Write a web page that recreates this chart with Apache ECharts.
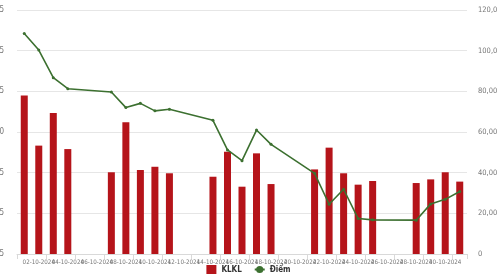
<!DOCTYPE html>
<html>
<head>
<meta charset="utf-8">
<script src="https://cdn.jsdelivr.net/npm/echarts@6/dist/echarts.min.js"></script>
<style>
html,body{margin:0;padding:0;background:#fff;}
#c{width:497px;height:280px;}
</style>
</head>
<body>
<div id="c"></div>
<script>
var categories = ['01-10-2024','02-10-2024','03-10-2024','04-10-2024','05-10-2024','06-10-2024','07-10-2024','08-10-2024','09-10-2024','10-10-2024','11-10-2024','12-10-2024','13-10-2024','14-10-2024','15-10-2024','16-10-2024','17-10-2024','18-10-2024','19-10-2024','20-10-2024','21-10-2024','22-10-2024','23-10-2024','24-10-2024','25-10-2024','26-10-2024','27-10-2024','28-10-2024','29-10-2024','30-10-2024','31-10-2024'];
var klkl = [77900,53300,69300,51600,null,null,40200,64800,41300,42900,39700,null,null,38000,50300,33100,49500,34400,null,null,41600,52300,39700,34100,35900,null,null,34900,36700,40200,35600];
var diem = [1280.3,1275.2,1266.7,1263.3,null,null,1262.3,1257.5,1258.8,1256.5,1257.0,null,null,1253.6,1244.5,1241.2,1250.6,1246.2,null,null,1237.3,1227.8,1232.4,1223.4,1223.0,null,null,1222.9,1227.9,1229.3,1231.7];
var seriesNames = ['KLKL','Điểm'];

var font = "'DejaVu Sans Condensed','Liberation Sans Narrow',sans-serif";
var chart = echarts.init(document.getElementById('c'), null, {renderer:'canvas'});
chart.setOption({
  animation:false,
  backgroundColor:'#fff',
  grid:{left:17, right:30, top:10, bottom:26, containLabel:false, outerBoundsMode:'none'},
  legend:{
    data:[{name:seriesNames[0], icon:'rect'},{name:seriesNames[1]}],
    bottom:1, left:'center', itemWidth:10, itemHeight:9, itemGap:12,
    textStyle:{fontSize:8, color:'#333', fontWeight:'bold', fontFamily:font}
  },
  xAxis:{
    type:'category', data:categories, boundaryGap:true,
    axisLine:{lineStyle:{color:'#d9d9d9'}},
    axisTick:{show:true, interval:1, lineStyle:{color:'#d9d9d9'}},
    axisLabel:{interval:0, fontSize:6.2, color:'#777', margin:5, fontFamily:font, hideOverlap:false,
      formatter:function(v, i){ return i % 2 === 1 ? v : ''; }}
  },
  yAxis:[{
    type:'value', min:1212.5, max:1287.5, interval:12.5, position:'left',
    axisLine:{show:false}, axisTick:{show:false},
    splitLine:{lineStyle:{color:'#e6e6e6'}},
    axisLabel:{fontSize:8, color:'#777', margin:13, fontFamily:font}
  },{
    type:'value', min:0, max:120000, interval:20000, position:'right',
    axisLine:{show:false}, axisTick:{show:false}, splitLine:{show:false},
    axisLabel:{fontSize:7.5, color:'#777', margin:11, fontFamily:font}
  }],
  series:[{
    name:seriesNames[0], type:'bar', yAxisIndex:1, data:klkl, barWidth:7,
    itemStyle:{color:'#b5141a'}
  },{
    name:seriesNames[1], type:'line', yAxisIndex:0, data:diem, connectNulls:true,
    symbol:'circle', symbolSize:3, showSymbol:true,
    lineStyle:{color:'#3c7030', width:1.6}, itemStyle:{color:'#3c7030'}
  }]
});
</script>
</body>
</html>
